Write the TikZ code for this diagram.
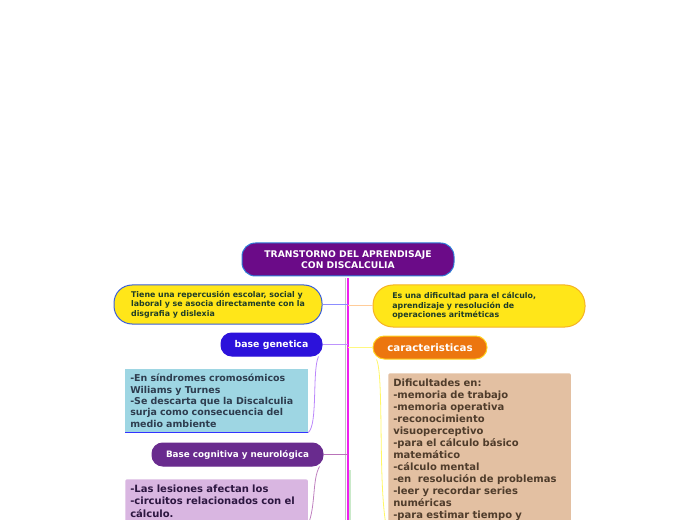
\documentclass[tikz,border=0pt]{standalone}
\usepackage{fontspec}
\setmainfont{DejaVu Sans}

\definecolor{titulofill}{HTML}{6B0B88}
\definecolor{titulobord}{HTML}{2F7FD8}
\definecolor{amarillo}{HTML}{FFE619}
\definecolor{bordeazul}{HTML}{3B5FD9}
\definecolor{textoverde}{HTML}{1F3D28}
\definecolor{bordenaranja}{HTML}{F5B324}
\definecolor{geneticafill}{HTML}{2C12DB}
\definecolor{naranja}{HTML}{EC760F}
\definecolor{bordeamarillo}{HTML}{FFD21F}
\definecolor{celeste}{HTML}{9ED6E3}
\definecolor{textoceleste}{HTML}{2E3D4F}
\definecolor{tostado}{HTML}{E3C0A2}
\definecolor{textotostado}{HTML}{4F3C2B}
\definecolor{cognitivafill}{HTML}{692B8E}
\definecolor{lavanda}{HTML}{D9B6E1}
\definecolor{textolavanda}{HTML}{2C1640}
\definecolor{magenta}{HTML}{F020F0}

\begin{document}
\begin{tikzpicture}[x=0.75pt,y=-0.75pt,
  pill/.style={rounded corners=#1, line width=0.75pt, align=center, inner sep=0pt},
  cuadro/.style={anchor=north west, align=left, inner xsep=3.75pt, inner ysep=4.2pt, text width=129.5pt}]

\clip (0,0) rectangle (696,520);

% Titulo
\node[pill=10pt, fill=titulofill, draw=titulobord, text=white, minimum width=159pt, minimum height=24.75pt,
  font=\bfseries\fontsize{6.9}{8.2}\selectfont] (titulo) at (348,259.5) {TRANSTORNO DEL APRENDISAJE\\CON DISCALCULIA};

% Eje central
\coordinate (eje) at (348,520);
\draw[gray!45, line width=0.6pt] ([xshift=-1.6pt]titulo.south) ++(0,2) -- ([xshift=-1.6pt]eje);
\draw[green!60!black!60, line width=0.6pt] (349.9,470) -- ([xshift=1.5pt]eje);
\draw[magenta, line width=2pt] (titulo.south) ++(0,2) -- (eje);

% Izquierda
\node[pill=13.5pt, fill=amarillo, draw=bordeazul, text=textoverde, minimum width=156pt, minimum height=29.25pt,
  font=\bfseries\fontsize{5.9}{7.1}\selectfont, align=left] (repercusion) at (218,304.5)
  {Tiene una repercusión escolar, social y\\laboral y se asocia directamente con la\\disgrafia y dislexia};
\node[pill=8pt, fill=geneticafill, draw=geneticafill, text=white, minimum width=75.75pt, minimum height=17.25pt,
  font=\bfseries\fontsize{7}{8}\selectfont] (genetica) at (271.5,344.5) {base genetica};
\node[cuadro, fill=celeste, text=textoceleste, inner ysep=2.5pt, minimum height=47.25pt,
  font=\bfseries\fontsize{7.1}{8.6}\selectfont] (sindromes) at (125,369)
  {-En síndromes cromosómicos\\Wiliams y Turnes\\-Se descarta que la Discalculia\\surja como consecuencia del\\medio ambiente};
\node[pill=8pt, fill=cognitivafill, draw=cognitivafill, text=white, minimum width=128.25pt, minimum height=17.25pt,
  font=\bfseries\fontsize{6.6}{8}\selectfont] (cognitiva) at (237.5,454.5) {Base cognitiva y neurológica};
\node[cuadro, fill=lavanda, text=textolavanda, text depth=40pt, rounded corners=1.5pt,
  font=\bfseries\fontsize{7.5}{9.4}\selectfont] (lesiones) at (125,479)
  {-Las lesiones afectan los\\-circuitos relacionados con el\\cálculo.};

% Derecha
\node[pill=15pt, fill=amarillo, draw=bordenaranja, text=textoverde, minimum width=159pt, minimum height=31.5pt,
  font=\bfseries\fontsize{5.9}{7.2}\selectfont, align=left, text width=130pt, inner xsep=14pt] (dificultad) at (479,306)
  {Es una dificultad para el cálculo,\\aprendizaje y resolución de\\operaciones aritméticas};
\node[pill=8.5pt, fill=naranja, draw=bordeamarillo, text=white, minimum width=85.5pt, minimum height=17.25pt,
  font=\bfseries\fontsize{7.7}{9}\selectfont] (caracteristicas) at (430,347.5) {caracteristicas};
\node[cuadro, fill=tostado, text=textotostado, text depth=115pt, rounded corners=1.5pt,
  font=\bfseries\fontsize{7.5}{9}\selectfont] (dificultades) at (388,373)
  {Dificultades en:\\-memoria de trabajo\\-memoria operativa\\-reconocimiento\\visuoperceptivo\\-para el cálculo básico\\matemático\\-cálculo mental\\-en\ \ resolución de problemas\\-leer y recordar series\\numéricas\\-para estimar tiempo y};

% Conectores
\draw[blue!45, line width=0.75pt] (repercusion.east) -- (repercusion.east -| eje);
\draw[blue!55!magenta!45, line width=0.75pt] (genetica.east) -- (genetica.east -| eje);
\draw[violet!55, line width=0.75pt] (cognitiva.east) -- (cognitiva.east -| eje);
\draw[orange!40, line width=0.75pt] (dificultad.west) -- (dificultad.west -| eje);
\draw[yellow!50, line width=0.75pt] (caracteristicas.west) -- (caracteristicas.west -| eje);

\draw[blue!80, line width=0.75pt] (sindromes.south west) -- (sindromes.south east);
\draw[blue!50!magenta!50, line width=0.6pt] ([xshift=-3pt]genetica.south east)
  .. controls (312,370) and (318,425) .. (sindromes.south east);
\draw[violet!50, line width=0.6pt] ([xshift=-3pt]cognitiva.south east)
  .. controls (312,480) and (316,505) .. (308,525);
\draw[yellow!60, line width=0.6pt] ([xshift=3pt]caracteristicas.south west)
  .. controls (384,375) and (378,480) .. (386,525);

\end{tikzpicture}
\end{document}
